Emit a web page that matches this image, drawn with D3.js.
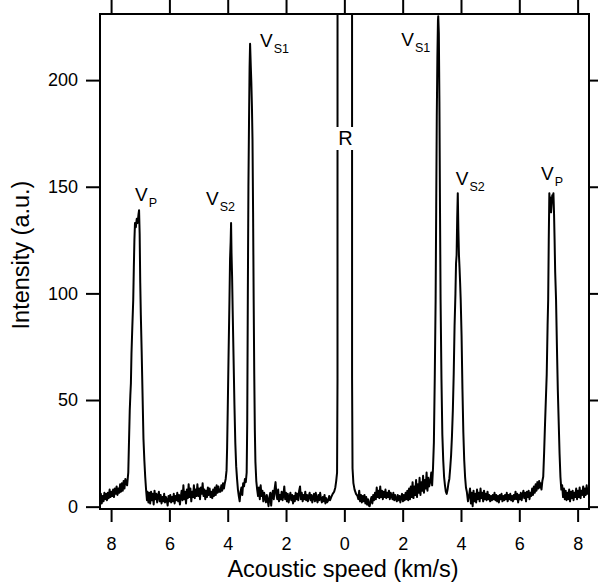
<!DOCTYPE html>
<html>
<head>
<meta charset="utf-8">
<script src="https://cdn.jsdelivr.net/npm/d3@7"></script>
<style>
  body { margin: 0; background: #fff; }
  svg { display: block; font-family: "Liberation Sans", Arial, sans-serif; }
</style>
</head>
<body>
<div id="chart"></div>
<script>
// SPECTRUM PIECES [speed km/s, intensity a.u.] (anti-Stokes side negative)
var farLeft = [[-8.38,2],[-8.35,6],[-8.32,1.5],[-8.29,5],[-8.26,2.5],[-8.23,6.5],[-8.20,3.5],[-8.17,6],[-8.14,3],[-8.11,6.5],[-8.08,4],[-8.05,8],[-8.02,4.5],[-7.99,7],[-7.96,5],[-7.93,8],[-7.90,4.5],[-7.87,8.5],[-7.84,6],[-7.81,9.5],[-7.78,5.5],[-7.75,8.5],[-7.72,6.5],[-7.69,10.5],[-7.66,7],[-7.63,11],[-7.60,7.5],[-7.57,12],[-7.54,8.5],[-7.51,13]];
var peakPLeft = [[-7.48,11],[-7.45,10],[-7.43,13],[-7.41,16],[-7.39,28],[-7.36,45],[-7.34,52],[-7.32,58],[-7.30,72],[-7.27,85],[-7.24,97],[-7.22,112],[-7.20,125],[-7.18,133],[-7.15,131],[-7.12,135],[-7.09,133],[-7.06,137],[-7.04,139],[-7.02,128],[-7.00,105],[-6.98,90],[-6.95,72],[-6.92,52],[-6.89,32],[-6.86,22],[-6.83,14],[-6.80,8],[-6.77,3],[-6.75,7]];
var baseLeft = [[-6.72,2],[-6.69,6.5],[-6.66,1.5],[-6.63,7],[-6.60,3],[-6.57,6],[-6.54,1],[-6.51,7.5],[-6.48,3.5],[-6.45,6],[-6.42,2],[-6.39,5],[-6.36,7],[-6.33,2.5],[-6.30,5.5],[-6.27,1.5],[-6.24,4.5],[-6.21,2.5],[-6.18,6],[-6.15,2],[-6.12,4.5],[-6.09,3],[-6.06,0.5],[-6.03,5],[-6.00,2.5],[-5.97,5.5],[-5.94,2],[-5.91,4.5],[-5.88,2.5],[-5.85,6],[-5.82,1.5],[-5.79,5],[-5.76,3],[-5.73,6.5],[-5.70,2.5],[-5.67,5.5],[-5.64,1],[-5.61,4.5],[-5.58,7.5],[-5.55,3],[-5.52,10],[-5.49,3.5],[-5.46,7],[-5.43,1.5],[-5.40,8],[-5.37,4],[-5.34,10.5],[-5.31,4.5],[-5.28,8.5],[-5.25,2.5],[-5.22,7],[-5.19,4.5],[-5.16,10],[-5.13,4],[-5.10,8],[-5.07,5],[-5.04,10.5],[-5.01,5],[-4.98,8.5],[-4.95,3.5],[-4.92,9],[-4.89,6],[-4.86,11],[-4.83,5],[-4.80,8],[-4.77,3.5],[-4.74,7.5],[-4.71,4.5],[-4.68,9],[-4.65,5.5],[-4.62,8.5],[-4.59,4.5],[-4.56,7],[-4.53,4],[-4.50,8],[-4.47,5],[-4.44,9],[-4.41,5.5],[-4.38,10],[-4.35,6.5],[-4.32,9.5],[-4.29,7]];
var peakSLeft = [[-4.25,7],[-4.22,10],[-4.19,7.5],[-4.16,11],[-4.13,8.5],[-4.10,11],[-4.07,13],[-4.04,17],[-4.02,28],[-4.00,45],[-3.97,72],[-3.94,97],[-3.92,116],[-3.90,124],[-3.885,133],[-3.87,119],[-3.85,108],[-3.83,92],[-3.80,70],[-3.77,48],[-3.74,30],[-3.71,19],[-3.68,13],[-3.65,8],[-3.62,5],[-3.59,2.5],[-3.56,7],[-3.53,9],[-3.50,5.5],[-3.47,11],[-3.44,9.5],[-3.41,13],[-3.38,11.5],[-3.35,16],[-3.33,40],[-3.31,100],[-3.29,150],[-3.27,180],[-3.25,206],[-3.233,217],[-3.21,207],[-3.19,199],[-3.17,188],[-3.15,172],[-3.13,138],[-3.11,97],[-3.09,62],[-3.07,36],[-3.05,21],[-3.02,12],[-2.99,8],[-2.96,5]];
var baseMidLeft = [[-2.93,9],[-2.90,3.5],[-2.87,10],[-2.84,5],[-2.81,7.5],[-2.78,2.5],[-2.75,6.5],[-2.72,4],[-2.69,2],[-2.66,5.5],[-2.63,3],[-2.60,0.2],[-2.57,4.5],[-2.54,6.5],[-2.51,0.5],[-2.48,5.5],[-2.45,7.5],[-2.42,3.5],[-2.39,8.5],[-2.36,11.5],[-2.33,5.5],[-2.30,3.5],[-2.27,8],[-2.24,2.5],[-2.21,5.5],[-2.18,3.5],[-2.15,7],[-2.12,3],[-2.09,5.5],[-2.06,9.5],[-2.03,3.5],[-2.00,6.5],[-1.97,2.5],[-1.94,6],[-1.91,2],[-1.88,4.5],[-1.85,6.5],[-1.82,3],[-1.79,5.5],[-1.76,1.5],[-1.73,5],[-1.70,2.5],[-1.67,6.5],[-1.64,3.5],[-1.61,6],[-1.58,3],[-1.55,7.5],[-1.52,9.5],[-1.49,3.5],[-1.46,6.5],[-1.43,2.5],[-1.40,5.5],[-1.37,3.5],[-1.34,7],[-1.31,3],[-1.28,5.5],[-1.25,2.5],[-1.22,5],[-1.19,6.5],[-1.16,3],[-1.13,5.5],[-1.10,2],[-1.07,4.5],[-1.04,6],[-1.01,2.5],[-0.98,6.5],[-0.95,3.5],[-0.92,2],[-0.89,5.5],[-0.86,3],[-0.83,6.5],[-0.80,3.5],[-0.77,2],[-0.74,4.5],[-0.71,2.5],[-0.68,5.5],[-0.65,1.5],[-0.62,4],[-0.59,2]];
var rayleigh = [[-0.55,3],[-0.52,5],[-0.49,3],[-0.45,4.5],[-0.40,6],[-0.35,7],[-0.31,9],[-0.28,12],[-0.25,16],[-0.235,60],[-0.225,2000],[0.255,2000],[0.265,60],[0.28,18],[0.31,11],[0.35,8],[0.40,6],[0.45,5]];
var baseMidRight = [[0.48,3.5],[0.51,7.5],[0.54,2.5],[0.57,5.5],[0.60,2],[0.63,5],[0.66,2.5],[0.69,5.5],[0.72,1.5],[0.75,4.5],[0.78,1],[0.81,3.5],[0.84,0.5],[0.87,0.2],[0.90,3],[0.93,4.5],[0.96,1.5],[0.99,5.5],[1.02,3],[1.05,6.5],[1.08,3.5],[1.11,9],[1.14,4.5],[1.17,7.5],[1.20,4],[1.23,9.5],[1.26,4.5],[1.29,7.5],[1.32,3.5],[1.35,7],[1.38,4.5],[1.41,8],[1.44,4],[1.47,6.5],[1.50,4.5],[1.53,7.5],[1.56,3.5],[1.59,6.5],[1.62,5],[1.65,3.5],[1.68,6.5],[1.71,3],[1.74,5.5],[1.77,3.5],[1.80,2.5],[1.83,5.5],[1.86,3],[1.89,5],[1.92,2],[1.95,4.5],[1.98,6],[2.01,2.5],[2.04,5.5],[2.07,3],[2.10,6.5],[2.13,3.5],[2.16,7.5],[2.19,3],[2.22,8.5],[2.25,3.5],[2.28,9.5],[2.31,4.5],[2.34,11.5],[2.37,4],[2.40,9.5],[2.43,5.5],[2.46,12.5],[2.49,4.5],[2.52,10.5],[2.55,6.5],[2.58,13.5],[2.61,5.5],[2.64,11.5],[2.67,7.5],[2.70,14.5],[2.73,6.5],[2.76,12.5],[2.79,8.5],[2.82,16],[2.85,7.5],[2.88,13.5],[2.91,9.5]];
var peakSRight = [[2.95,12],[2.98,16],[3.01,10],[3.04,18],[3.07,30],[3.10,60],[3.13,97],[3.15,140],[3.17,183],[3.19,210],[3.21,228],[3.22,230],[3.24,222],[3.26,190],[3.28,140],[3.30,97],[3.33,60],[3.36,34],[3.39,22],[3.42,14],[3.45,10],[3.48,7],[3.51,6],[3.54,8],[3.57,11],[3.60,13],[3.63,18],[3.66,24],[3.69,33],[3.72,45],[3.75,62],[3.78,85],[3.81,100],[3.83,114],[3.85,118],[3.87,135],[3.89,147],[3.91,130],[3.93,118],[3.95,112],[3.97,105],[3.99,97],[4.02,80],[4.05,55],[4.08,35],[4.11,22],[4.14,14],[4.17,9],[4.20,7],[4.24,2.5]];
var baseRight = [[4.28,5.5],[4.31,8.5],[4.34,1.5],[4.37,6.5],[4.40,0.2],[4.43,7.5],[4.46,2.5],[4.49,6],[4.52,2],[4.55,8],[4.58,3.5],[4.61,6.5],[4.64,2.5],[4.67,8.5],[4.70,4],[4.73,6.5],[4.76,2.5],[4.79,7.5],[4.82,3.5],[4.85,6],[4.88,3],[4.91,7],[4.94,3.5],[4.97,5.5],[5.00,2.5],[5.03,5],[5.06,3],[5.09,5.5],[5.12,3.5],[5.15,6.5],[5.18,3],[5.21,5.5],[5.24,2.5],[5.27,5],[5.30,2],[5.33,5.5],[5.36,3.5],[5.39,6],[5.42,2.5],[5.45,5],[5.48,3],[5.51,5.5],[5.54,3.5],[5.57,6.5],[5.60,2.5],[5.63,5.5],[5.66,3.5],[5.69,6],[5.72,3],[5.75,5],[5.78,2.5],[5.81,5.5],[5.84,3.5],[5.87,7],[5.90,3.5],[5.93,6],[5.96,2],[5.99,5.5],[6.02,3.5],[6.05,6.5],[6.08,3],[6.11,5.5],[6.14,7.5],[6.17,4],[6.20,6.5],[6.23,2.5],[6.26,7],[6.29,4.5],[6.32,7.5],[6.35,3.5],[6.38,6.5],[6.41,5],[6.44,8.5],[6.47,5.5],[6.50,9.5],[6.53,6.5],[6.56,10.5],[6.59,7.5],[6.62,11.5],[6.65,8.5],[6.68,12]];
var peakPRight = [[6.70,9],[6.73,11],[6.76,8],[6.79,12],[6.82,14],[6.85,25],[6.88,38],[6.91,50],[6.94,62],[6.97,85],[6.99,97],[7.01,125],[7.03,147],[7.05,140],[7.07,145],[7.09,138],[7.11,142],[7.13,146],[7.15,145],[7.17,147],[7.19,138],[7.21,125],[7.23,110],[7.26,97],[7.29,75],[7.32,55],[7.35,40],[7.38,25],[7.41,14],[7.44,8],[7.47,10]];
var farRight = [[7.50,4.5],[7.53,8.5],[7.56,3.5],[7.59,7.5],[7.62,3],[7.65,6.5],[7.68,3.5],[7.71,8],[7.74,2.5],[7.77,7],[7.80,4],[7.83,7.5],[7.86,3],[7.89,6.5],[7.92,4.5],[7.95,8.5],[7.98,3.5],[8.01,7.5],[8.04,4.5],[8.07,9],[8.10,4],[8.13,7.5],[8.16,5.5],[8.19,9.5],[8.22,4.5],[8.25,8.5],[8.28,5.5],[8.31,10],[8.34,6],[8.37,8.5],[8.39,7]];

var xTicks = [-8, -6, -4, -2, 0, 2, 4, 6, 8];
var yTicks = [0, 50, 100, 150, 200];

// PEAK LABELS [speed, label, subscript]
var peakNames = ["V", "V", "V", "R", "V", "V", "V"];
var peakSubs = ["P", "S2", "S1", "", "S1", "S2", "P"];
var peakSpeeds = [-7.04, -3.885, -3.233, 0, 3.22, 3.89, 7.12];

var spectrum = [].concat(farLeft, peakPLeft, baseLeft, peakSLeft, baseMidLeft, rayleigh,
    baseMidRight, peakSRight, baseRight, peakPRight, farRight);

var W = 598, H = 588;
var L = 100, R = 589, T = 14, B = 509;

var x = d3.scaleLinear().domain([-8.38, 8.39]).range([L, R]);
var y = d3.scaleLinear().domain([-1.1, 231]).range([B, T]);

var svg = d3.select("#chart").append("svg")
    .attr("width", W)
    .attr("height", H);

svg.append("clipPath").attr("id", "plotclip")
    .append("rect")
    .attr("x", L).attr("y", T)
    .attr("width", R - L).attr("height", B - T);

//SPECTRUM LINE
var line = d3.line()
    .x(function (d) { return x(d[0]); })
    .y(function (d) { return y(d[1]); });

svg.append("path")
    .datum(spectrum)
    .attr("clip-path", "url(#plotclip)")
    .attr("fill", "none")
    .attr("stroke", "#000")
    .attr("stroke-width", 2)
    .attr("stroke-linejoin", "round")
    .attr("d", line);

//AXES
function styleAxis(g) {
    g.select(".domain").remove();
    g.selectAll(".tick line").attr("stroke", "#000").attr("stroke-width", 2);
    g.selectAll(".tick text").attr("fill", "#000").attr("font-size", 18)
        .attr("font-family", "Liberation Sans, Arial, sans-serif");
}

svg.append("g")
    .attr("transform", "translate(0," + B + ")")
    .call(d3.axisBottom(x).tickValues(xTicks).tickSize(13).tickPadding(15)
        .tickFormat(function (d) { return Math.abs(d); }))
    .call(styleAxis);

svg.append("g")
    .attr("transform", "translate(0," + T + ")")
    .call(d3.axisTop(x).tickValues(xTicks).tickSize(14).tickFormat(""))
    .call(styleAxis);

svg.append("g")
    .attr("transform", "translate(" + L + ",0)")
    .call(d3.axisLeft(y).tickValues(yTicks).tickSize(14).tickPadding(8))
    .call(styleAxis);

svg.append("g")
    .attr("transform", "translate(" + R + ",0)")
    .call(d3.axisRight(y).tickValues(yTicks).tickSize(14).tickFormat(""))
    .call(styleAxis);

//FRAME
svg.append("rect")
    .attr("x", L).attr("y", T)
    .attr("width", R - L).attr("height", B - T)
    .attr("fill", "none")
    .attr("stroke", "#000")
    .attr("stroke-width", 2);

//AXIS TITLES
svg.append("text")
    .attr("x", 343).attr("y", 577)
    .attr("text-anchor", "middle")
    .attr("font-size", 23.5)
    .text("Acoustic speed (km/s)");

svg.append("text")
    .attr("transform", "translate(29,255) rotate(-90)")
    .attr("text-anchor", "middle")
    .attr("font-size", 23.5)
    .text("Intensity (a.u.)");

//PEAK LABELS (offset from the peak position, in px)
var labelOffsets = [[-4, 201], [-25, 205], [10, 47], [0, 145], [-37, 46], [-2, 185], [-11, 180]];

peakSpeeds.forEach(function (s, i) {
    var px = x(s) + labelOffsets[i][0];
    var py = labelOffsets[i][1];
    if (peakSubs[i] === "") {
        svg.append("rect")
            .attr("x", px - 9).attr("y", py - 18)
            .attr("width", 19).attr("height", 23)
            .attr("fill", "#fff");
        svg.append("text")
            .attr("x", px + 1).attr("y", py)
            .attr("text-anchor", "middle")
            .attr("font-size", 20)
            .text(peakNames[i]);
    } else {
        var t = svg.append("text")
            .attr("x", px).attr("y", py)
            .attr("font-size", 19);
        t.append("tspan").text(peakNames[i]);
        t.append("tspan")
            .attr("dy", 6)
            .attr("dx", 1)
            .attr("font-size", 12.5)
            .text(peakSubs[i]);
    }
});
</script>
</body>
</html>
